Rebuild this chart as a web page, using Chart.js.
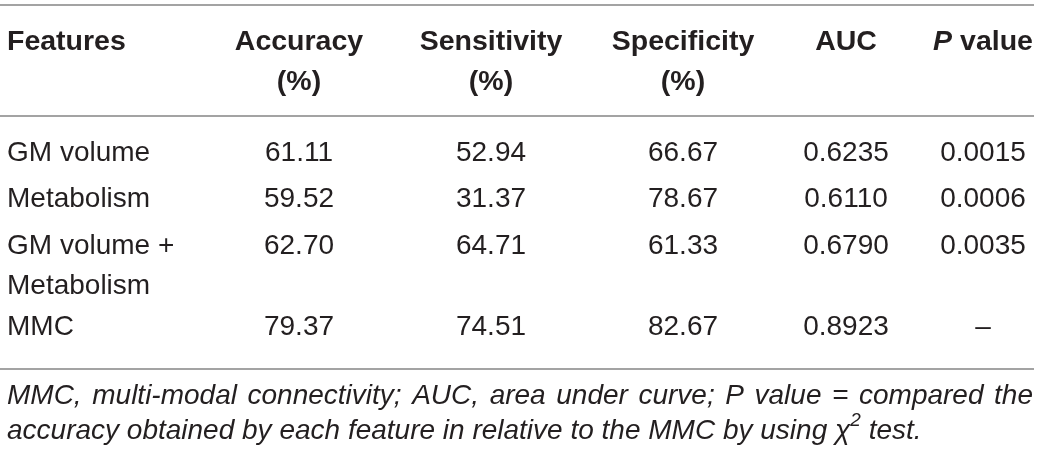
<!DOCTYPE html>
<html>
<head>
<meta charset="utf-8">
<script src="https://cdn.jsdelivr.net/npm/chart.js@4/dist/chart.umd.min.js"></script>
<style>
  html, body { margin: 0; padding: 0; background: #fff; }
  #wrap { width: 1040px; height: 455px; }
</style>
</head>
<body>
<div id="wrap"><canvas id="tbl"></canvas></div>
<script>
// table content ("\n" = line break, "*..*" = italic run, "^x" = superscript)
const headers = ['Features', 'Accuracy\n(%)', 'Sensitivity\n(%)', 'Specificity\n(%)', 'AUC', '*P* value'];
const features = ['GM volume', 'Metabolism', 'GM volume +\nMetabolism', 'MMC'];
const accuracy = [61.11, 59.52, 62.70, 79.37];
const sensitivity = [52.94, 31.37, 64.71, 74.51];
const specificity = [66.67, 78.67, 61.33, 82.67];
const auc = [0.6235, 0.6110, 0.6790, 0.8923];
const pValue = [0.0015, 0.0006, 0.0035, null];
const footnote = [
    'MMC, multi-modal connectivity; AUC, area under curve; P value = compared the',
    'accuracy obtained by each feature in relative to the MMC by using χ^2 test.'
];

// layout in page units (x 0..1040, y 0..455 from the top)
const colX = [7, 299, 491, 683, 846, 983];
const headerY = 42;
const rowY = [153, 199, 246, 327];
const lineGap = 40;
const ruleY = [5, 116, 369];
const ruleX = [0, 1034];
const noteY = [396, 431];

const FONT = '"Liberation Sans", Arial, sans-serif';
const FONT_SIZE = 28;
const BOLD_SIZE = 28.5;
const TEXT_COLOR = '#231f20';
const RULE_COLOR = '#858585';

const fmt2 = v => v.toFixed(2);
const fmt4 = v => (v === null ? '–' : v.toFixed(4));

const columns = [
    features,
    accuracy.map(fmt2),
    sensitivity.map(fmt2),
    specificity.map(fmt2),
    auc.map(fmt4),
    pValue.map(fmt4)
];

// split "*P* value" / "χ^2" into styled runs
function parseRuns(text) {
    const runs = [];
    let italic = false;
    let buf = '';
    for (let i = 0; i < text.length; i++) {
        const ch = text[i];
        if (ch === '*') {
            if (buf) runs.push({ t: buf, italic, sup: false });
            buf = '';
            italic = !italic;
        } else if (ch === '^') {
            if (buf) runs.push({ t: buf, italic, sup: false });
            buf = '';
            runs.push({ t: text[i + 1], italic, sup: true });
            i++;
        } else {
            buf += ch;
        }
    }
    if (buf) runs.push({ t: buf, italic, sup: false });
    return runs;
}

function runFont(run, bold, italicAll) {
    const base = bold ? BOLD_SIZE : FONT_SIZE;
    const size = run.sup ? Math.round(base * 0.68) : base;
    const style = (run.italic || italicAll) ? 'italic ' : '';
    return `${style}${bold ? 'bold ' : ''}${size}px ${FONT}`;
}

function measureRuns(ctx, runs, bold, italicAll) {
    let w = 0;
    for (const r of runs) {
        ctx.font = runFont(r, bold, italicAll);
        w += ctx.measureText(r.t).width;
    }
    return w;
}

function drawRuns(ctx, runs, x, y, bold, italicAll) {
    for (const r of runs) {
        ctx.font = runFont(r, bold, italicAll);
        ctx.fillText(r.t, x, r.sup ? y - FONT_SIZE * 0.36 : y);
        x += ctx.measureText(r.t).width;
    }
    return x;
}

function drawCell(ctx, text, x, y, align, bold) {
    text.split('\n').forEach((line, k) => {
        const runs = parseRuns(line);
        const w = measureRuns(ctx, runs, bold, false);
        const x0 = align === 'left' ? x : x - w / 2;
        drawRuns(ctx, runs, x0, y + k * lineGap, bold, false);
    });
}

// justified (or left) italic footnote line
function drawNote(ctx, text, x, y, width, justify) {
    const words = text.split(' ').map(parseRuns);
    const widths = words.map(r => measureRuns(ctx, r, false, true));
    ctx.font = `italic ${FONT_SIZE}px ${FONT}`;
    let gap = ctx.measureText(' ').width;
    if (justify) {
        const total = widths.reduce((a, b) => a + b, 0);
        gap = (width - total) / (words.length - 1);
    }
    let cx = x;
    words.forEach((r, i) => {
        drawRuns(ctx, r, cx, y, false, true);
        cx += widths[i] + gap;
    });
}

const tableText = {
    id: 'tableText',
    afterDatasetsDraw(chart) {
        const ctx = chart.ctx;
        ctx.save();
        ctx.fillStyle = TEXT_COLOR;
        ctx.textBaseline = 'middle';
        ctx.textAlign = 'left';
        chart.data.datasets.forEach((ds, di) => {
            if (!ds.cellText) return;
            const meta = chart.getDatasetMeta(di);
            meta.data.forEach((pt, i) => {
                const d = ds.data[i];
                if (ds.cellText === 'note') {
                    const right = chart.scales.x.getPixelForValue(ruleX[1] - 1);
                    drawNote(ctx, d.text, pt.x, pt.y, right - pt.x, d.justify);
                } else {
                    drawCell(ctx, d.text, pt.x, pt.y, d.align, ds.cellText === 'header');
                }
            });
        });
        ctx.restore();
    }
};

const datasets = [];

ruleY.forEach(y => {
    datasets.push({
        type: 'line',
        data: ruleX.map(x => ({ x, y })),
        borderColor: RULE_COLOR,
        borderWidth: 1.6,
        pointRadius: 0,
        clip: false
    });
});

datasets.push({
    type: 'scatter',
    cellText: 'header',
    pointRadius: 0,
    data: headers.map((h, c) => ({ x: colX[c], y: headerY, text: h, align: c === 0 ? 'left' : 'center' }))
});

columns.forEach((col, c) => {
    datasets.push({
        type: 'scatter',
        cellText: 'cell',
        pointRadius: 0,
        data: col.map((t, r) => ({ x: colX[c], y: rowY[r], text: t, align: c === 0 ? 'left' : 'center' }))
    });
});

datasets.push({
    type: 'scatter',
    cellText: 'note',
    pointRadius: 0,
    data: footnote.map((t, k) => ({ x: colX[0], y: noteY[k], text: t, justify: k === 0 }))
});

new Chart(document.getElementById('tbl'), {
    type: 'scatter',
    data: { datasets },
    options: {
        responsive: true,
        maintainAspectRatio: false,
        animation: false,
        events: [],
        layout: { padding: 0 },
        plugins: {
            legend: { display: false },
            tooltip: { enabled: false }
        },
        scales: {
            x: { type: 'linear', min: 0, max: 1040, display: false },
            y: { type: 'linear', min: 0, max: 455, reverse: true, display: false }
        }
    },
    plugins: [tableText]
});
</script>
</body>
</html>
